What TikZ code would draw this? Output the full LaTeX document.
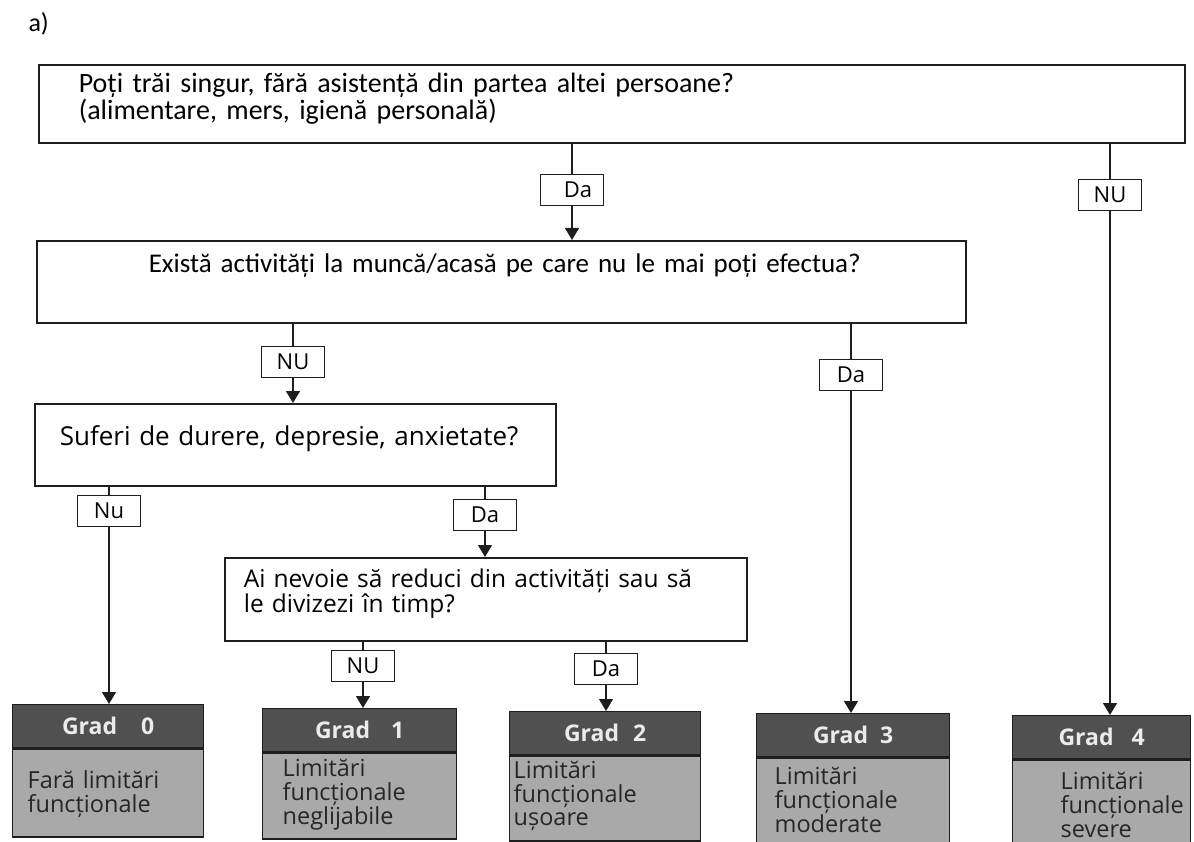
\documentclass[tikz,border=0pt]{standalone}
\usepackage{fontspec}
\setmainfont{Open Sans}
\newfontfamily\calib{Carlito}
\usetikzlibrary{arrows.meta,positioning,calc}
\definecolor{headGray}{HTML}{505050}
\definecolor{bodyGray}{HTML}{A9A9A9}
\definecolor{lineBlack}{HTML}{1E1E1E}
\hyphenpenalty=10000

\begin{document}
\begin{tikzpicture}[
    x=1pt, y=-1pt,
    qbox/.style={rectangle, draw=lineBlack, line width=1.6pt, fill=white,
                 anchor=north west, align=left, inner ysep=0pt},
    answer/.style={rectangle, draw=lineBlack, line width=1.3pt, fill=white,
                   minimum width=63pt, minimum height=31pt, inner sep=0pt,
                   font=\fontsize{22}{22}\selectfont},
    gradhead/.style={rectangle, draw=lineBlack, line width=1.3pt, fill=headGray,
                     anchor=north west, minimum height=43pt, inner sep=0pt,
                     text=white!92!black, font=\fontsize{23}{23}\selectfont\bfseries},
    gradbody/.style={rectangle, draw=lineBlack, line width=1.3pt, fill=bodyGray,
                     align=left, inner sep=0pt, text=black!85,
                     font=\fontsize{23.5}{24}\selectfont},
    link/.style={line width=1.4pt, draw=lineBlack},
    arrow/.style={link, -{Triangle[length=12pt, width=14pt]}},
]
    \useasboundingbox (0,0) rectangle (1194,842);
    \node[anchor=base west, font=\calib\fontsize{26}{26}\selectfont] (part) at (25,32) {a)};

    % questions
    \node[qbox, font=\calib\fontsize{28}{23}\selectfont, inner xsep=40pt,
          text width=1066pt, text height=28pt, text depth=50pt] (q1) at (38,64)
         {Poți trăi singur, fără asistență din partea altei persoane?\\
          (alimentare, mers, igienă personală)};
    \node[qbox, font=\calib\fontsize{27}{25}\selectfont, inner xsep=20pt,
          text width=889pt, text height=32pt, text depth=50pt] (q2) at (36,240)
         {\hspace*{92pt}Există activități la muncă/acasă pe care nu le mai poți efectua?};
    \node[qbox, font=\fontsize{26}{26}\selectfont, inner xsep=20pt,
          text width=481pt, text height=42pt, text depth=40pt] (q3) at (34,403)
         {\hspace*{5pt}Suferi de durere, depresie, anxietate?};
    \node[qbox, font=\fontsize{24.5}{25}\selectfont, inner xsep=19pt,
          text width=484pt, text height=30pt, text depth=53pt] (q4) at (224,557)
         {Ai nevoie să reduci din activități sau să\\le divizezi în timp?};

    % answers
    \node[answer] (da1) at (572,190) {\hspace*{12pt}Da};
    \node[answer] (nu1) at (1110,195) {NU};
    \node[answer] (nu2) at (293,362) {NU};
    \node[answer] (da2) at (851,375) {Da};
    \node[answer] (nu3) at (109,511) {Nu};
    \node[answer] (da3) at (485,515) {Da};
    \node[answer] (nu4) at (363,666) {NU};
    \node[answer] (da4) at (606,669) {Da};

    % grades
    \node[gradhead, minimum width=191pt] (g0) at (12,704) {Grad\hspace{24pt}0};
    \node[gradbody, below=0pt of g0, text width=191pt, text height=40pt, text depth=48pt]
         (g0b) {\hspace*{15pt}Fară limitări\\\hspace*{15pt}funcționale};
    \node[gradhead, minimum width=194pt] (g1) at (262,708) {Grad\hspace{21pt}1};
    \node[gradbody, below=0pt of g1, text width=194pt, text height=24pt, text depth=62pt]
         (g1b) {\hspace*{20pt}Limitări\\\hspace*{20pt}funcționale\\\hspace*{20pt}neglijabile};
    \node[gradhead, minimum width=191pt] (g2) at (509,711) {Grad\hspace{14pt}2};
    \node[gradbody, below=0pt of g2, text width=191pt, text height=23pt, text depth=62pt]
         (g2b) {\hspace*{4pt}Limitări\\\hspace*{4pt}funcționale\\[-1pt]\hspace*{4pt}ușoare};
    \node[gradhead, minimum width=193pt] (g3) at (756,713) {Grad\hspace{12pt}3};
    \node[gradbody, below=0pt of g3, text width=193pt, text height=27pt, text depth=90pt]
         (g3b) {\hspace*{18pt}Limitări\\\hspace*{18pt}funcționale\\\hspace*{18pt}moderate};
    \node[gradhead, minimum width=178pt] (g4) at (1012,715) {Grad\hspace{18pt}4};
    \node[gradbody, below=0pt of g4, text width=178pt, text height=30pt, text depth=90pt]
         (g4b) {\hspace*{48pt}Limitări\\\hspace*{48pt}funcționale\\\hspace*{48pt}severe};

    % connectors
    \draw[link] (q1.south -| da1) -- (da1);
    \draw[arrow] (da1) -- (q2.north -| da1);
    \draw[link] (q1.south -| nu1) -- (nu1);
    \draw[arrow] (nu1) -- (g4.north -| nu1);
    \draw[link] (q2.south -| nu2) -- (nu2);
    \draw[arrow] (nu2) -- (q3.north -| nu2);
    \draw[link] (q2.south -| da2) -- (da2);
    \draw[arrow] (da2) -- (g3.north -| da2);
    \draw[link] (q3.south -| nu3) -- (nu3);
    \draw[arrow] (nu3) -- (g0.north -| nu3);
    \draw[link] (q3.south -| da3) -- (da3);
    \draw[arrow] (da3) -- (q4.north -| da3);
    \draw[link] (q4.south -| nu4) -- (nu4);
    \draw[arrow] (nu4) -- (g1.north -| nu4);
    \draw[link] (q4.south -| da4) -- (da4);
    \draw[arrow] (da4) -- (g2.north -| da4);
\end{tikzpicture}
\end{document}
